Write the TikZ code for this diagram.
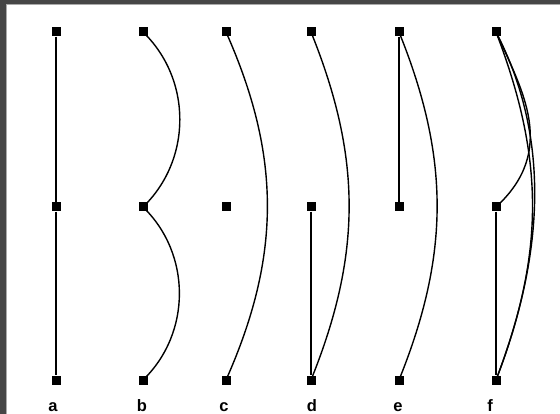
\documentclass[tikz,border=0pt]{standalone}
\usepackage{fontspec}
\setmainfont{Liberation Sans}
\definecolor{frame}{RGB}{70,70,70}
\definecolor{frameline}{RGB}{170,170,170}
\begin{document}
\begin{tikzpicture}[x=1pt,y=-1pt,
  pt/.style={rectangle,fill=black,draw=none,minimum size=9pt,inner sep=0pt},
  edge/.style={line width=1.4pt,black},
  lab/.style={font=\bfseries\fontsize{16.5}{16.5}\selectfont,inner sep=0pt,anchor=base}]
\useasboundingbox (0,0) rectangle (560,414);
\fill[white] (0,0) rectangle (560,414);
\fill[frame] (0,0) rectangle (560,4);
\fill[frame] (0,0) rectangle (6,414);
\fill[frameline] (6,4) rectangle (560,5);
\fill[frameline] (6,4) rectangle (7,414);

% nodes
\foreach \n/\x in {a/56,b/143,c/226,d/311,e/399,f/496}{
  \node[pt] (\n1) at (\x,32) {};
  \node[pt] (\n2) at (\x,207) {};
  \node[pt] (\n3) at (\x,380) {};
}
% labels
\node[lab] (la) at (53,411) {a};
\node[lab] (lb) at (142,411) {b};
\node[lab] (lc) at (224,411) {c};
\node[lab] (ld) at (312,411) {d};
\node[lab] (le) at (398,411) {e};
\node[lab] (lf) at (490,411) {f};

% a
\draw[edge] (a1) -- (a2);
\draw[edge] (a2) -- (a3);
% b
\draw[edge] (b1.center) to[bend left=46] (b2.center);
\draw[edge] (b2.center) to[bend left=46] (b3.center);
% c
\draw[edge] (c1.center) to[bend left=24] (c3.center);
% d
\draw[edge] (d1.center) to[bend left=22] (d3.center);
\draw[edge] (d2) -- (d3);
% e
\draw[edge] (e1) -- (e2);
\draw[edge] (e1.center) to[bend left=22] (e3.center);
% f
\draw[edge] (f1.center) .. controls (522,90) and (558,150) .. (f2.center);
\draw[edge] (f1.center) .. controls (544.7,159) and (544.7,253) .. (f3.center);
\draw[edge] (f1.center) .. controls (552,140) and (543,258) .. (f3.center);
\draw[edge] (f2) -- (f3);
\end{tikzpicture}
\end{document}
